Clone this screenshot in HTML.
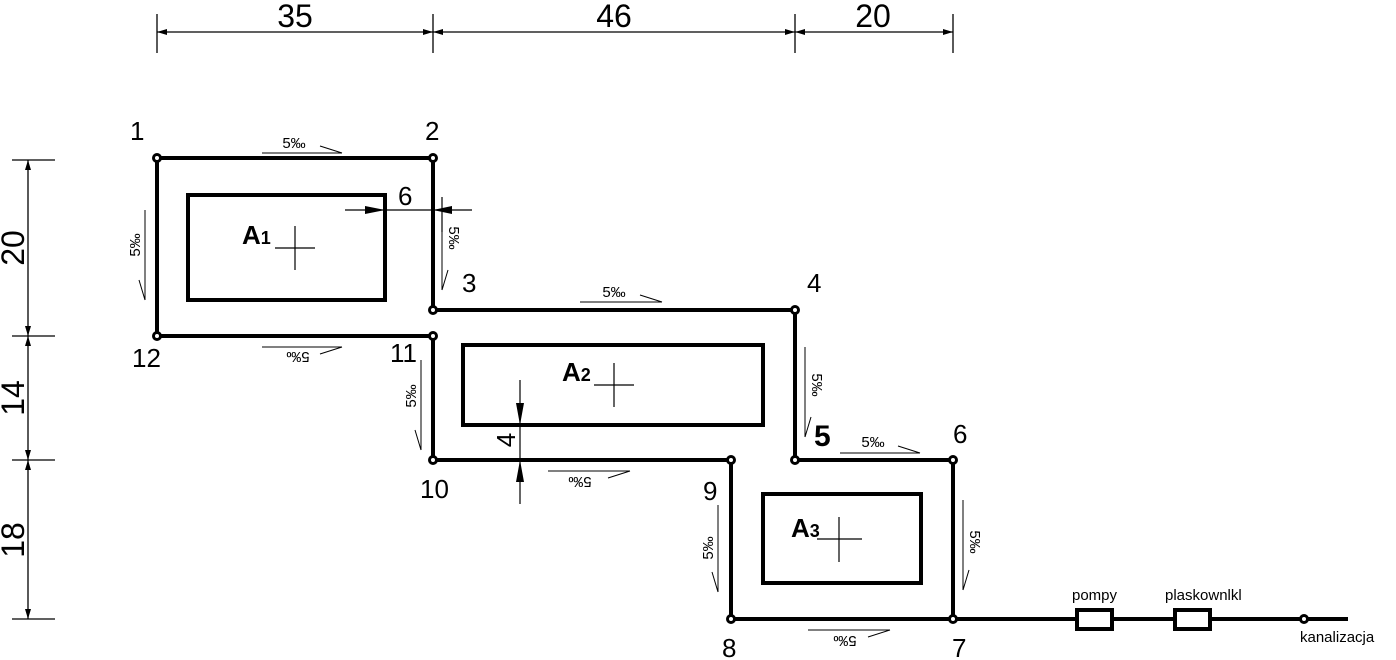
<!DOCTYPE html>
<html><head><meta charset="utf-8"><style>
html,body{margin:0;padding:0;background:#fff;width:1396px;height:660px;overflow:hidden}
svg{display:block}
text{font-family:"Liberation Sans",sans-serif;fill:#000}
.n{font-size:26px}
.d{font-size:32px}
.s{font-size:15px}
</style></head><body>
<svg width="1396" height="660" viewBox="0 0 1396 660" xmlns="http://www.w3.org/2000/svg">
<defs>
<marker id="a" viewBox="0 0 10 6" refX="10" refY="3" markerWidth="18" markerHeight="6" markerUnits="userSpaceOnUse" orient="auto-start-reverse"><path d="M0,0L10,3L0,6z"/></marker>
</defs>
<g stroke="#000" stroke-width="1.3" fill="none">
<line x1="157" y1="14" x2="157" y2="53"/><line x1="433" y1="14" x2="433" y2="53"/>
<line x1="795" y1="14" x2="795" y2="53"/><line x1="953" y1="14" x2="953" y2="53"/>
<line x1="157" y1="32" x2="433" y2="32" marker-start="url(#a)" marker-end="url(#a)"/>
<line x1="433" y1="32" x2="795" y2="32" marker-start="url(#a)" marker-end="url(#a)"/>
<line x1="795" y1="32" x2="953" y2="32" marker-start="url(#a)" marker-end="url(#a)"/>
<line x1="12" y1="160" x2="55" y2="160"/><line x1="12" y1="336" x2="55" y2="336"/>
<line x1="12" y1="460" x2="55" y2="460"/><line x1="12" y1="619" x2="55" y2="619"/>
<line x1="28" y1="160" x2="28" y2="336" marker-start="url(#a)" marker-end="url(#a)"/>
<line x1="28" y1="336" x2="28" y2="460" marker-start="url(#a)" marker-end="url(#a)"/>
<line x1="28" y1="460" x2="28" y2="619" marker-start="url(#a)" marker-end="url(#a)"/>
</g>
<text class="d" x="295" y="27" text-anchor="middle">35</text>
<text class="d" x="614" y="27" text-anchor="middle">46</text>
<text class="d" x="873" y="27" text-anchor="middle">20</text>
<text class="d" transform="translate(24,248) rotate(-90)" text-anchor="middle">20</text>
<text class="d" transform="translate(24,398) rotate(-90)" text-anchor="middle">14</text>
<text class="d" transform="translate(24,540) rotate(-90)" text-anchor="middle">18</text>

<g stroke="#000" stroke-width="4" fill="none">
<path d="M157,158 H433 V310 H795 V460 H953 V619 H731 V460 H433 V336 H157 Z"/>
<line x1="953" y1="619" x2="1348" y2="619"/>
<rect x="188" y="195" width="197" height="105"/>
<rect x="463" y="345" width="300" height="80"/>
<rect x="763" y="494" width="158" height="89"/>
<rect x="1077" y="610" width="35" height="19" fill="#fff"/>
<rect x="1175" y="610" width="35" height="19" fill="#fff"/>
</g>
<g fill="#fff" stroke="#000" stroke-width="3">
<circle cx="157" cy="158" r="3.5"/><circle cx="433" cy="158" r="3.5"/><circle cx="433" cy="310" r="3.5"/>
<circle cx="795" cy="310" r="3.5"/><circle cx="795" cy="460" r="3.5"/><circle cx="953" cy="460" r="3.5"/>
<circle cx="953" cy="619" r="3.5"/><circle cx="731" cy="619" r="3.5"/><circle cx="731" cy="460" r="3.5"/>
<circle cx="433" cy="460" r="3.5"/><circle cx="433" cy="336" r="3.5"/><circle cx="157" cy="336" r="3.5"/>
<circle cx="1304" cy="619" r="3.5"/>
</g>
<g stroke="#000" stroke-width="1.2">
<line x1="275" y1="248" x2="315" y2="248"/><line x1="295" y1="226" x2="295" y2="270"/>
<line x1="594" y1="385" x2="634" y2="385"/><line x1="614" y1="363" x2="614" y2="407"/>
<line x1="817" y1="539" x2="862" y2="539"/><line x1="839" y1="517" x2="839" y2="562"/>
<line x1="345" y1="210" x2="472" y2="210"/>
<line x1="442" y1="197" x2="442" y2="232"/>
<line x1="520" y1="380" x2="520" y2="504"/>
</g>
<path d="M365,206 L385,210 L365,214Z M452,206 L433,210 L452,214Z M516,403 L520,425 L524,403Z M516,482 L520,460 L524,482Z"/>
<text class="n" x="398" y="205">6</text>
<text class="n" transform="translate(515,440) rotate(-90)" text-anchor="middle">4</text>
<g style="font-weight:bold;font-size:26px">
<text x="242" y="244">A<tspan font-size="18">1</tspan></text>
<text x="562" y="381">A<tspan font-size="18">2</tspan></text>
<text x="791" y="537">A<tspan font-size="18">3</tspan></text>
<text x="814" y="446" font-size="30">5</text>
</g>
<g class="n">
<text x="130" y="140">1</text><text x="425" y="140">2</text><text x="462" y="292">3</text>
<text x="807" y="292">4</text><text x="953" y="443">6</text><text x="952" y="657">7</text>
<text x="722" y="657">8</text><text x="703" y="500">9</text>
<text x="420" y="498">10</text><text x="390" y="362">11</text><text x="132" y="367">12</text>
</g>
<text x="1072" y="600" class="s">pompy</text>
<text x="1165" y="600" class="s">plaskownlkl</text>
<text x="1300" y="642" class="s">kanalizacja</text>
<g stroke="#000" stroke-width="1" fill="none">
<line x1="262" y1="153" x2="342" y2="153"/><line x1="320" y1="146" x2="342" y2="153"/>
<line x1="580" y1="302" x2="662" y2="302"/><line x1="640" y1="295" x2="662" y2="302"/>
<line x1="840" y1="453" x2="920" y2="453"/><line x1="898" y1="446" x2="920" y2="453"/>
<line x1="262" y1="347" x2="342" y2="347"/><line x1="320" y1="354" x2="342" y2="347"/>
<line x1="548" y1="471" x2="630" y2="471"/><line x1="608" y1="478" x2="630" y2="471"/>
<line x1="808" y1="630" x2="890" y2="630"/><line x1="868" y1="637" x2="890" y2="630"/>
<line x1="145" y1="210" x2="145" y2="300"/><line x1="139" y1="280" x2="145" y2="300"/>
<line x1="442" y1="212" x2="442" y2="290"/><line x1="448" y1="270" x2="442" y2="290"/>
<line x1="421" y1="360" x2="421" y2="450"/><line x1="415" y1="430" x2="421" y2="450"/>
<line x1="805" y1="347" x2="805" y2="437"/><line x1="811" y1="417" x2="805" y2="437"/>
<line x1="718" y1="505" x2="718" y2="592"/><line x1="712" y1="572" x2="718" y2="592"/>
<line x1="963" y1="500" x2="963" y2="590"/><line x1="969" y1="570" x2="963" y2="590"/>
</g>
<g class="s">
<text x="294" y="148" text-anchor="middle">5‰</text>
<text x="614" y="297" text-anchor="middle">5‰</text>
<text x="873" y="447" text-anchor="middle">5‰</text>
<text transform="translate(298,352) rotate(180)" text-anchor="middle">5‰</text>
<text transform="translate(580,477) rotate(180)" text-anchor="middle">5‰</text>
<text transform="translate(845,636) rotate(180)" text-anchor="middle">5‰</text>
<text transform="translate(140,245) rotate(-90)" text-anchor="middle">5‰</text>
<text transform="translate(449,238) rotate(90)" text-anchor="middle">5‰</text>
<text transform="translate(416,396) rotate(-90)" text-anchor="middle">5‰</text>
<text transform="translate(812,385) rotate(90)" text-anchor="middle">5‰</text>
<text transform="translate(713,548) rotate(-90)" text-anchor="middle">5‰</text>
<text transform="translate(970,542) rotate(90)" text-anchor="middle">5‰</text>
</g>
</svg>
</body></html>
